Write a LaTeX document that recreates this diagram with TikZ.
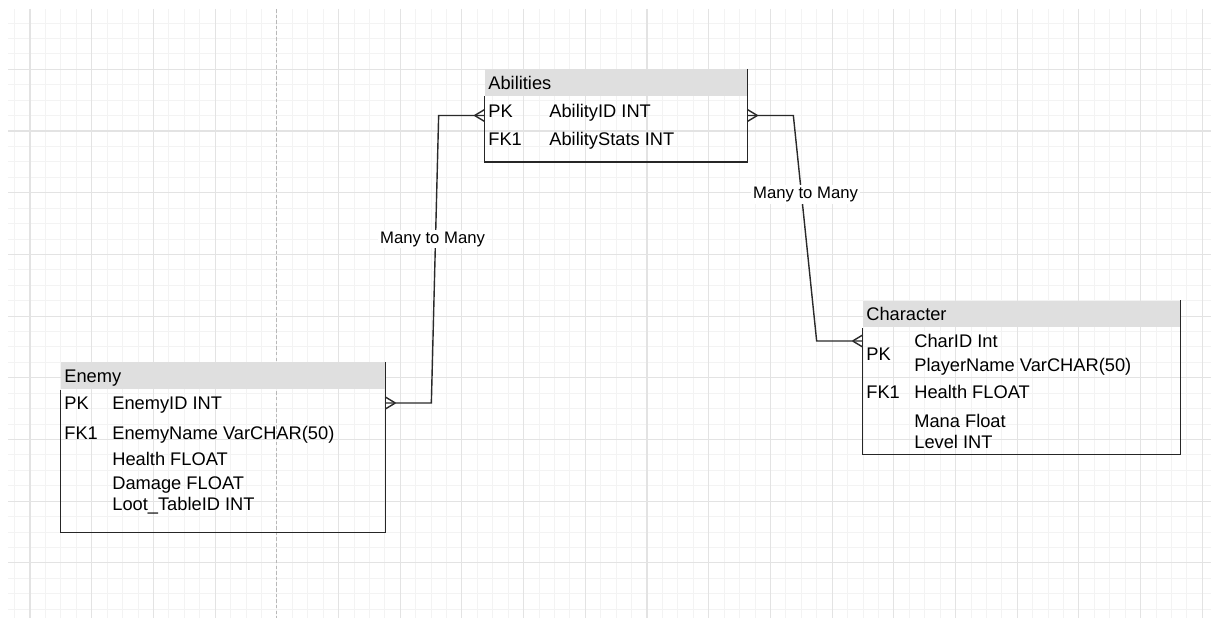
\documentclass[tikz,border=0pt]{standalone}
\usepackage{fontspec}
\setmainfont{Liberation Sans}
\usetikzlibrary{fit,calc}

\definecolor{gridminor}{HTML}{F3F3F3}
\definecolor{gridmajor}{HTML}{E3E3E3}
\definecolor{headgray}{HTML}{DFDFDF}
\definecolor{linegray}{HTML}{2A2A2A}

\begin{document}
\begin{tikzpicture}[x=0.02cm, y=-0.02cm,
    tablebox/.style={inner sep=0pt, draw=none},
    headbox/.style={inner sep=0pt, fill=headgray},
    tableline/.style={draw=black!85, line width=0.85pt},
    row/.style={anchor=west, inner sep=0pt, text height=0.72em, text depth=0pt,
        font=\fontsize{10.4}{12}\selectfont},
    conn/.style={draw=linegray, line width=0.8pt},
    lbl/.style={fill=white, inner sep=1pt, font=\fontsize{9.5}{11}\selectfont},
    manyend/.pic={\draw[conn] (-10,0) -- (0,6) (-10,0) -- (0,-6);}]

    \useasboundingbox (0,0) rectangle (1211,618);

    % grid
    \foreach \i in {0,...,77}
        \draw[gridminor, line width=0.5pt] ({14.6+15.425*\i},9) -- ({14.6+15.425*\i},618);
    \foreach \i in {0,...,38}
        \draw[gridminor, line width=0.5pt] (8,{23+15.425*\i}) -- (1211,{23+15.425*\i});
    \foreach \i in {0,1,2,3,5,6,...,19}
        \draw[gridmajor, line width=0.6pt] ({30+61.7*\i},9) -- ({30+61.7*\i},618);
    \foreach \i in {0,...,8}
        \draw[gridmajor, line width=0.6pt] (8,{69.3+61.7*\i}) -- (1211,{69.3+61.7*\i});
    \draw[black!28, line width=0.6pt, dash pattern=on 2pt off 1.2pt] (276.8,9) -- (276.8,618);

    % Abilities
    \node[headbox, fit={(485,69.3) (747,96)}] (abilH) {};
    \node[tablebox, fit={(485,69.3) (747,161.7)}] (abil) {};
    \draw[tableline] (abil.north east) |- (abil.south west) -- (abilH.south west);
    \node[row] (abilT) at (488,83) {Abilities};
    \node[row] (aPK) at (488,111) {PK};
    \node[row] (aID) at (549,111) {AbilityID INT};
    \node[row] (aFK) at (488,139) {FK1};
    \node[row] (aStats) at (549,139) {AbilityStats INT};

    % Character
    \node[headbox, fit={(863,300.7) (1180,327.3)}] (charH) {};
    \node[tablebox, fit={(863,300.7) (1180,454.3)}] (char) {};
    \draw[tableline] (char.north east) |- (char.south west) -- (charH.south west);
    \node[row] (charT) at (866,314) {Character};
    \node[row] (cPK) at (866,354) {PK};
    \node[row] (cID) at (914,341) {CharID Int};
    \node[row] (cName) at (914,365) {PlayerName VarCHAR(50)};
    \node[row] (cFK) at (866,392) {FK1};
    \node[row] (cHealth) at (914,392) {Health FLOAT};
    \node[row] (cMana) at (914,421) {Mana Float};
    \node[row] (cLevel) at (914,442) {Level INT};

    % Enemy
    \node[headbox, fit={(61,362.3) (385,389.3)}] (enemyH) {};
    \node[tablebox, fit={(61,362.3) (385,532.3)}] (enemy) {};
    \draw[tableline] (enemy.north east) |- (enemy.south west) -- (enemyH.south west);
    \node[row] (enemyT) at (64,376) {Enemy};
    \node[row] (ePK) at (64,403) {PK};
    \node[row] (eID) at (112,403) {EnemyID INT};
    \node[row] (eFK) at (64,433) {FK1};
    \node[row] (eName) at (112,433) {EnemyName VarCHAR(50)};
    \node[row] (eHealth) at (112,459) {Health FLOAT};
    \node[row] (eDamage) at (112,483) {Damage FLOAT};
    \node[row] (eLoot) at (112,504) {Loot\_TableID INT};

    % relations
    \draw[conn] (enemy.east |- ePK) -- ++(46,0)
        -- node[lbl, pos=0.57, xshift=-1.7pt] (relA) {Many to Many} ($(abil.west)+(-46,0)$)
        -- (abil.west);
    \draw[conn] (abil.east) -- ++(46,0)
        -- node[lbl, pos=0.35, xshift=2.3pt] (relB) {Many to Many} ($(char.west |- cID)+(-46,0)$)
        -- (char.west |- cID);

    \pic at (abil.west) {manyend};
    \pic at (char.west |- cID) {manyend};
    \pic[xscale=-1] at (enemy.east |- ePK) {manyend};
    \pic[xscale=-1] at (abil.east) {manyend};

\end{tikzpicture}
\end{document}
